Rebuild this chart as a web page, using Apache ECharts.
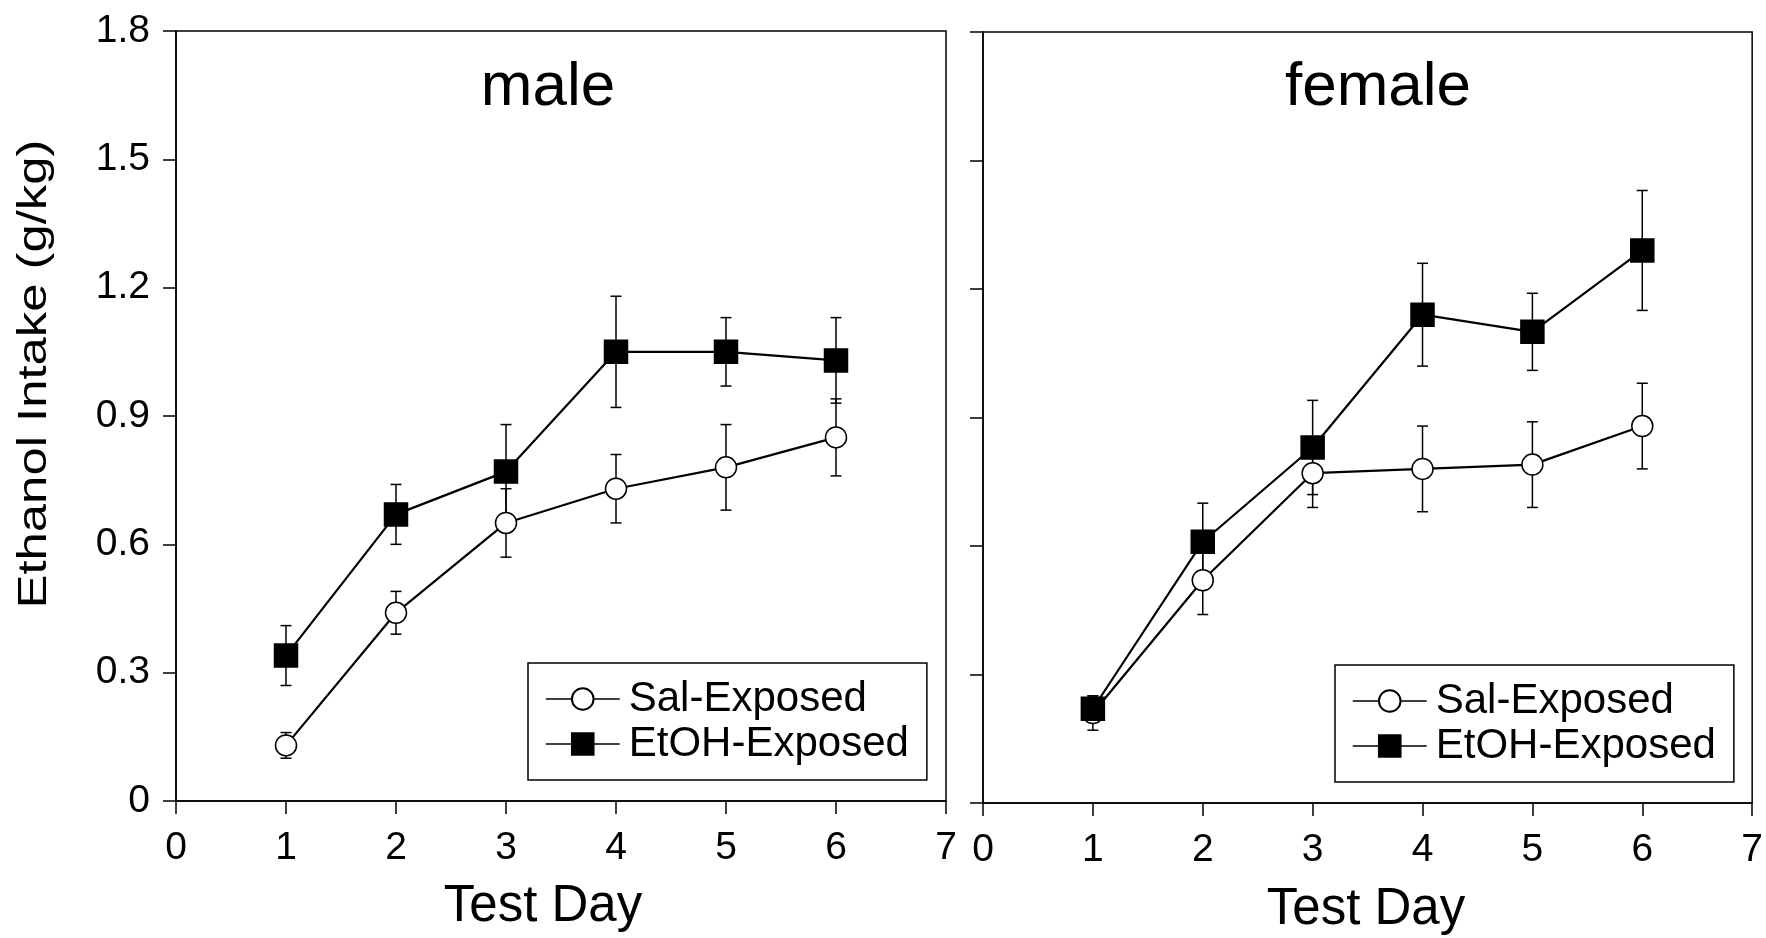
<!DOCTYPE html>
<html>
<head>
<meta charset="utf-8">
<script src="https://cdn.jsdelivr.net/npm/echarts@6/dist/echarts.min.js"></script>
<style>
  html, body { margin: 0; padding: 0; background: #fff; }
  #main { width: 1766px; height: 938px; }
</style>
</head>
<body>
<div id="main"></div>
<script>
var days = [1, 2, 3, 4, 5, 6];
var seriesNames = ['Sal-Exposed', 'EtOH-Exposed'];
var panelTitles = ['male', 'female'];

// means and SEM
var maleSal = [0.13, 0.44, 0.65, 0.73, 0.78, 0.85];
var maleSalErr = [0.03, 0.05, 0.08, 0.08, 0.10, 0.09];
var maleEtoh = [0.34, 0.67, 0.77, 1.05, 1.05, 1.03];
var maleEtohErr = [0.07, 0.07, 0.11, 0.13, 0.08, 0.10];
var femaleSal = [0.21, 0.52, 0.77, 0.78, 0.79, 0.88];
var femaleSalErr = [0.04, 0.08, 0.08, 0.10, 0.10, 0.10];
var femaleEtoh = [0.22, 0.61, 0.83, 1.14, 1.10, 1.29];
var femaleEtohErr = [0.03, 0.09, 0.11, 0.12, 0.09, 0.14];

var font = '"Liberation Sans", Arial, sans-serif';

function pairs(vals, errs) {
	return days.map(function (d, i) { return [d, vals[i], errs ? errs[i] : 0]; });
}

// 误差棒
function errorBar(params, api) {
	var x = api.value(0), y = api.value(1), e = api.value(2);
	var hi = api.coord([x, y + e]);
	var lo = api.coord([x, y - e]);
	var half = 5.5;
	var st = { stroke: '#000', lineWidth: 1.5 };
	return {
		type: 'group',
		children: [
			{ type: 'line', shape: { x1: hi[0], y1: hi[1], x2: lo[0], y2: lo[1] }, style: st },
			{ type: 'line', shape: { x1: hi[0] - half, y1: hi[1], x2: hi[0] + half, y2: hi[1] }, style: st },
			{ type: 'line', shape: { x1: lo[0] - half, y1: lo[1], x2: lo[0] + half, y2: lo[1] }, style: st }
		]
	};
}

function xAxisFor(idx) {
	return {
		type: 'value', gridIndex: idx, min: 0, max: 7, interval: 1,
		axisLine: { lineStyle: { color: '#000', width: 1.5 } },
		axisTick: { length: 13, lineStyle: { color: '#000', width: 1.5 } },
		axisLabel: { color: '#000', fontSize: 39, fontFamily: font, margin: 28 },
		splitLine: { show: false }
	};
}

function yAxisFor(idx, labels) {
	return {
		type: 'value', gridIndex: idx, min: 0, max: 1.8, interval: 0.3,
		axisLine: { show: true, lineStyle: { color: '#000', width: 1.5 } },
		axisTick: { show: true, length: 13, lineStyle: { color: '#000', width: 1.5 } },
		axisLabel: {
			show: labels, color: '#000', fontSize: 39, fontFamily: font, margin: 26,
			formatter: function (v) { return v === 0 ? '0' : v.toFixed(1); }
		},
		splitLine: { show: false }
	};
}

function lineSeries(name, idx, vals, symbol, size, fill) {
	return {
		name: name, type: 'line', xAxisIndex: idx, yAxisIndex: idx,
		data: pairs(vals), symbol: symbol, symbolSize: size,
		lineStyle: { color: '#000', width: 2.2 },
		itemStyle: { color: fill, borderColor: '#000', borderWidth: 1.5 },
		z: 3
	};
}

function errSeries(idx, vals, errs) {
	return {
		type: 'custom', xAxisIndex: idx, yAxisIndex: idx,
		data: pairs(vals, errs), renderItem: errorBar,
		encode: { x: 0, y: 1 }, z: 2, silent: true
	};
}

function legendFor(left, top) {
	return {
		data: seriesNames, orient: 'vertical', left: left, top: top,
		selectedMode: false,
		itemWidth: 74, itemHeight: 27, itemGap: 3,
		padding: [15, 18, 15, 17],
		borderColor: '#000', borderWidth: 1.5, borderRadius: 0,
		lineStyle: { width: 1.5 },
		textStyle: { color: '#000', fontSize: 42, fontFamily: font, padding: [0, 0, 0, 4] }
	};
}

function label(text, x, y, size, extra) {
	var g = {
		type: 'text', x: x, y: y,
		style: { text: text, fill: '#000', fontSize: size, fontFamily: font, align: 'center', verticalAlign: 'middle' }
	};
	for (var k in extra) g[k] = extra[k];
	return g;
}

var myChart = echarts.init(document.getElementById('main'));

var option = {
	animation: false,
	backgroundColor: '#fff',
	grid: [
		{ left: 176, top: 31, width: 770, height: 770, show: true, borderColor: '#000', borderWidth: 1.5 },
		{ left: 983, top: 32, width: 771, height: 771, show: true, borderColor: '#000', borderWidth: 1.5 }
	],
	xAxis: [xAxisFor(0), xAxisFor(1)],
	yAxis: [yAxisFor(0, true), yAxisFor(1, false)],
	legend: [legendFor(528, 663), legendFor(1335, 665)],
	graphic: [
		label(panelTitles[0], 548, 88, 62),
		label(panelTitles[1], 1378, 88, 62),
		label('Test Day', 543, 907, 51),
		label('Test Day', 1366, 910, 51),
		label('Ethanol Intake (g/kg)', 35, 374, 40, { rotation: Math.PI / 2, scaleX: 1.27 })
	],
	series: [
		errSeries(0, maleSal, maleSalErr),
		errSeries(0, maleEtoh, maleEtohErr),
		errSeries(1, femaleSal, femaleSalErr),
		errSeries(1, femaleEtoh, femaleEtohErr),
		lineSeries(seriesNames[0], 0, maleSal, 'circle', 21, '#fff'),
		lineSeries(seriesNames[1], 0, maleEtoh, 'rect', 23, '#000'),
		lineSeries(seriesNames[0], 1, femaleSal, 'circle', 21, '#fff'),
		lineSeries(seriesNames[1], 1, femaleEtoh, 'rect', 23, '#000')
	]
};

myChart.setOption(option);
</script>
</body>
</html>
